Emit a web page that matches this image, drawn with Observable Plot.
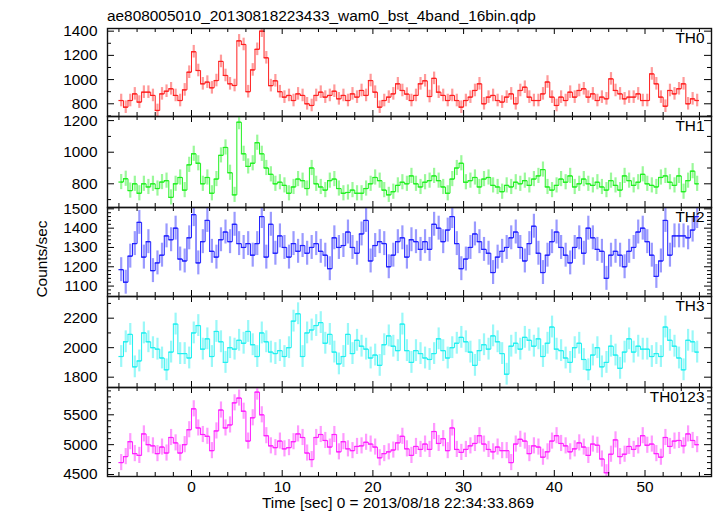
<!DOCTYPE html>
<html><head><meta charset="utf-8">
<script src="https://cdn.jsdelivr.net/npm/d3@7"></script>
<script src="https://cdn.jsdelivr.net/npm/@observablehq/plot@0.6"></script>
<style>
html,body{margin:0;padding:0;background:#fff;}
#chart{position:relative;width:717px;height:516px;overflow:hidden;background:#fff;font-family:"Liberation Sans",Arial,Helvetica,sans-serif;color:#000;}
#chart .panel{position:absolute;left:0;}
#chart .lbl{position:absolute;font-size:15.4px;line-height:15px;white-space:nowrap;}
</style></head><body><div id="chart"></div>
<script>
const titleText = "ae808005010_20130818223433_wam0_bst_4band_16bin.qdp";
const xLabel = "Time [sec] 0 = 2013/08/18 22:34:33.869";
const yLabel = "Counts/sec";
const bands = ["TH0","TH1","TH2","TH3","TH0123"];
const colors = ["#ff2020","#20f020","#2020ff","#20f0f0","#ff20ff"];
const binStart = -7.75, binWidth = 0.5;

const th0 = [827,772,827,882,814,896,896,869,745,882,904,924,869,827,915,1061,1230,1075,965,979,932,992,1150,1034,965,951,1320,1290,900,1080,1250,1400,1180,950,990,900,855,869,827,882,869,800,786,869,896,855,869,904,841,869,827,882,855,910,869,992,896,772,827,855,882,965,910,880,827,869,965,990,860,1010,896,869,827,869,827,772,827,855,910,965,800,855,869,827,814,855,882,800,910,937,855,827,827,882,980,855,786,855,827,896,855,910,924,855,882,827,855,841,1006,910,882,841,855,855,882,827,827,1047,965,855,780,910,882,924,965,800,841,827];
const th1 = [811,832,757,800,740,800,780,800,770,811,820,714,800,840,760,920,990,930,800,840,740,830,980,1030,870,730,1190,990,910,930,1060,990,900,860,800,810,790,740,780,830,820,770,900,800,780,760,820,830,770,740,745,760,740,740,770,800,840,820,760,730,750,790,810,800,850,800,780,810,820,850,820,780,740,830,900,930,810,820,840,780,830,840,790,780,750,790,780,810,800,820,790,830,850,890,780,760,790,830,810,850,780,800,830,800,790,810,780,760,820,790,760,850,820,790,810,860,800,790,780,840,850,810,790,850,750,820,880,800];
const th2 = [1185,1120,1255,1320,1430,1250,1330,1180,1220,1260,1360,1340,1400,1240,1230,1350,1470,1220,1330,1440,1280,1250,1340,1380,1330,1420,1320,1300,1320,1260,1320,1460,1250,1420,1270,1360,1300,1250,1320,1280,1310,1270,1300,1320,1280,1260,1190,1350,1300,1310,1380,1300,1270,1370,1440,1230,1310,1330,1320,1200,1260,1330,1350,1250,1340,1330,1290,1330,1290,1420,1400,1330,1390,1460,1320,1190,1240,1300,1370,1330,1290,1270,1170,1250,1280,1300,1350,1380,1300,1230,1320,1410,1270,1170,1260,1330,1380,1300,1260,1220,1300,1350,1270,1400,1350,1290,1280,1140,1260,1280,1260,1200,1280,1300,1380,1400,1330,1260,1150,1230,1440,1260,1360,1360,1360,1350,1390,1460];
const th3 = [1940,2040,2090,1870,1910,2100,2040,2000,1990,1930,1850,1970,2160,1960,1960,1930,2100,2150,1990,2060,1940,2110,2040,1900,2000,1990,2050,2030,2110,2020,1940,2100,2040,1970,1960,1980,1940,2000,2180,2230,1940,2100,2120,2150,2170,2030,2090,1970,1890,1940,2090,1960,2050,2010,1990,1930,1950,1880,2020,2080,2010,1980,2160,1980,1900,1980,1960,1930,1920,1960,2060,1980,1930,2000,2030,2070,2040,1970,1880,1980,2020,1990,2080,2040,1960,1820,2010,2030,1990,2070,2050,2010,2060,1940,2030,2140,1990,1980,1930,1900,2000,2030,1920,1850,1950,2000,1870,1900,2010,1950,1860,1970,2060,1970,2010,1990,1990,1940,1960,1940,2140,2050,2010,1930,1850,2050,2040,1970];
const th0123 = [4700,4800,5050,4850,4820,5180,5000,4980,4850,4960,4860,5120,5030,4860,5000,5250,5600,5280,5170,5140,4900,5230,5580,5280,5330,5700,5780,5560,5060,5450,5880,5500,5150,4980,4950,5060,4930,4950,5050,5180,5120,4860,4750,5120,5170,5070,4960,5170,4880,5050,4930,4900,4970,4980,5040,5010,4960,4780,4850,4880,4910,5030,5140,4930,4820,4970,4920,5010,4920,5220,5020,5100,4900,5280,4920,4870,4920,4980,5020,5150,5010,4920,4880,4960,4900,4900,4700,5010,5090,5060,4850,4980,4960,4790,4880,5060,5150,5020,4980,4880,4930,5030,4960,4820,5010,4990,4760,4530,4840,5080,4800,4840,4970,4920,4980,5150,4990,5010,4850,4790,5120,4970,5060,5070,4980,5180,5070,5000];
const series = [th0, th1, th2, th3, th0123];
const errors = [52, 48, 62, 74, 135];

const yDomains = [[695,1422],[650,1226],[1046,1507],[1730,2347],[4467,5957]];
const yMajor = [[800,1000,1200,1400],[800,1000,1200],[1100,1200,1300,1400,1500],[1800,2000,2200],[4500,5000,5500]];
const yMinorStep = [100,100,20,100,100];
const xDomain = [-9.26, 57.33];
const xMajor = [0,10,20,30,40,50];
const xMinorStep = 2;

// layout
const W = 717, ML = 107, MR = 6, innerW = W - ML - MR;
const panelTops = [28,116,207,296,387,476];
const font = '"Liberation Sans",Arial,Helvetica,sans-serif';
const chart = document.getElementById("chart");

function addLabel(text, css) {
  const d = document.createElement("div");
  d.className = "lbl";
  d.textContent = text;
  Object.assign(d.style, css);
  chart.appendChild(d);
  return d;
}
addLabel(titleText, {left: "107px", top: "8px"});
addLabel(xLabel, {left: "398px", top: "495px", transform: "translateX(-50%)"});
addLabel(yLabel, {left: "41px", top: "259px", transform: "translate(-50%,-50%) rotate(-90deg)"});

const xMinor = d3.range(Math.ceil(xDomain[0]/xMinorStep)*xMinorStep, xDomain[1], xMinorStep).filter(v => !xMajor.includes(v));

bands.forEach((band, k) => {
  const top = panelTops[k], h = panelTops[k+1] - top;
  const last = k === bands.length - 1;
  const color = colors[k];
  const err = errors[k];
  const data = series[k].map((v, i) => ({t: binStart + i*binWidth, v}));
  const [lo, hi] = yDomains[k];
  const st = yMinorStep[k];
  const yMinor = d3.range(Math.ceil(lo/st)*st, hi, st).filter(v => !yMajor[k].includes(v));
  const extra = last ? 40 : 0;
  const plot = Plot.plot({
    width: W, height: h + 2 + extra,
    marginLeft: ML, marginRight: MR, marginTop: 1, marginBottom: 1 + extra,
    style: {fontFamily: font, fontSize: "15.4px", color: "#000", background: "transparent", overflow: "visible"},
    x: {domain: xDomain, axis: last ? "bottom" : null, ticks: xMajor, tickFormat: d3.format("d"), tickSize: 0, tickPadding: 5, label: null},
    y: {domain: yDomains[k], ticks: yMajor[k], tickFormat: d3.format("d"), tickSize: 0, tickPadding: 10, label: null},
    marks: [
      Plot.ruleX(data, {x: "t", y1: d => d.v - err, y2: d => d.v + err, stroke: color, strokeOpacity: 0.45, strokeWidth: 2.2, clip: true}),
      Plot.line(data, {x: "t", y: "v", curve: "step", stroke: color, strokeWidth: 1, clip: true}),
      Plot.ruleY(data, {y: "v", x1: d => d.t - binWidth/2, x2: d => d.t + binWidth/2, stroke: color, strokeWidth: 1.2, clip: true}),
      Plot.tickY(yMajor[k], {insetRight: innerW - 7, stroke: "#000"}),
      Plot.tickY(yMajor[k], {insetLeft: innerW - 7, stroke: "#000"}),
      Plot.tickY(yMinor, {insetRight: innerW - 4, stroke: "#000"}),
      Plot.tickY(yMinor, {insetLeft: innerW - 4, stroke: "#000"}),
      Plot.tickX(xMajor, {insetBottom: h - 6, stroke: "#000"}),
      Plot.tickX(xMajor, {insetTop: h - 6, stroke: "#000"}),
      Plot.tickX(xMinor, {insetBottom: h - 4, stroke: "#000"}),
      Plot.tickX(xMinor, {insetTop: h - 4, stroke: "#000"}),
      Plot.frame({stroke: "#111", strokeWidth: 1.4}),
      Plot.text([band], {frameAnchor: "top-right", dx: -7, dy: 4, lineAnchor: "top", fontSize: 15.4, fill: "#000"})
    ]
  });
  plot.classList.add("panel");
  plot.style.top = (top - 1) + "px";
  chart.appendChild(plot);
});
</script>
</body></html>
